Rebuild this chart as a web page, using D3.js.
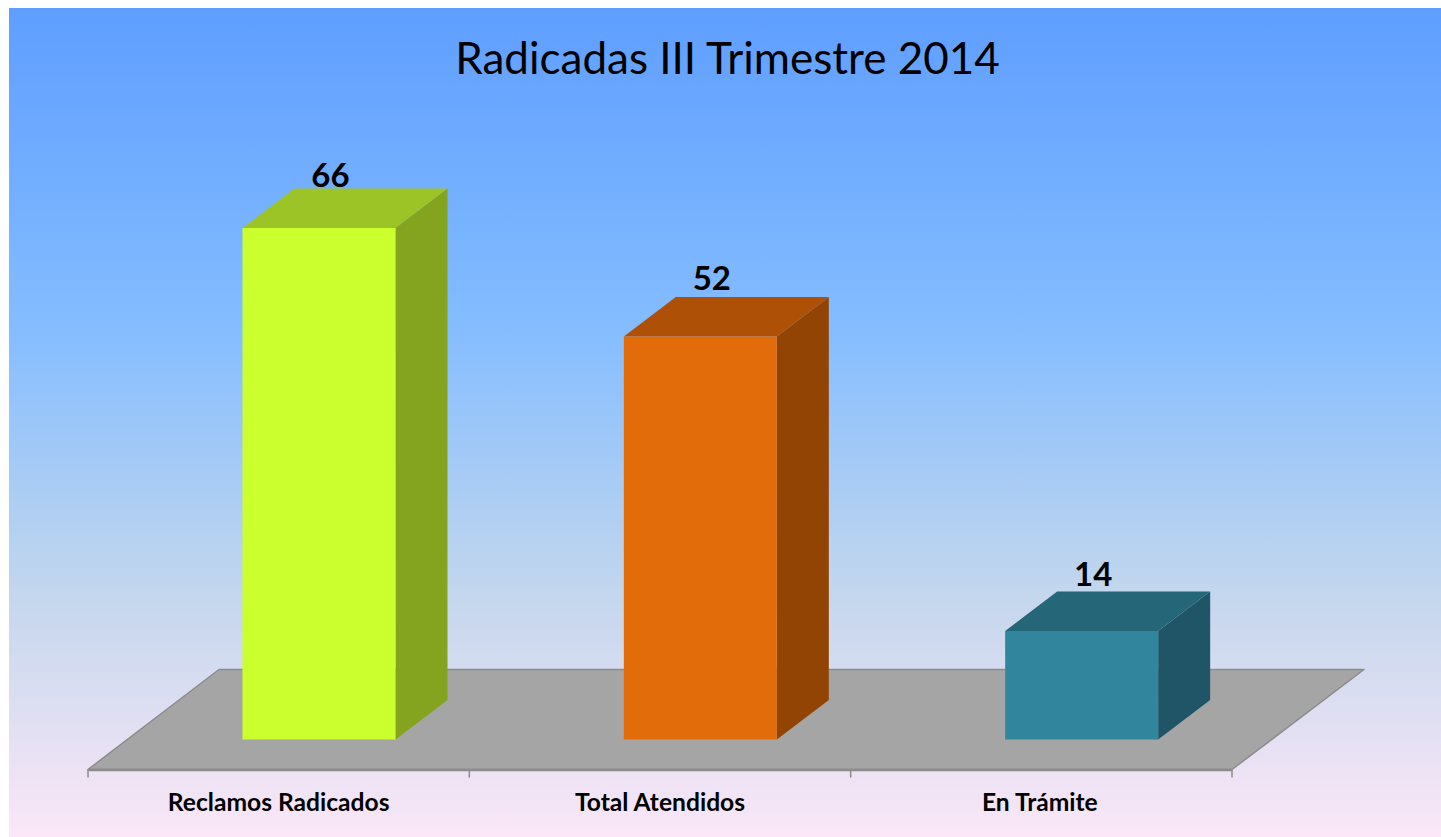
<!DOCTYPE html>
<html><head><meta charset="utf-8">
<style>html,body{margin:0;padding:0;background:#fff;overflow:hidden}svg{display:block}text{font-family:Lato,"Open Sans",sans-serif;fill:#000}</style>
<script src="https://cdn.jsdelivr.net/npm/d3@7/dist/d3.min.js"></script>
</head><body><svg id="c" width="1441" height="837"></svg>
<script>
const titleText = "Radicadas III Trimestre 2014";
const categories = ["Reclamos Radicados","Total Atendidos","En Trámite"];
const values = [66,52,14];
const frontColors = ["#ccff2e","#e36c0a","#31859c"];
const topColors = ["#9dc427","#ae5107","#256678"];
const sideColors = ["#84a31f","#924405","#1f5566"];
const labelLift = [41,47,45];

const svg = d3.select("#c");
const defs = svg.append("defs");
const grad = defs.append("linearGradient").attr("id","bg").attr("x1",0).attr("x2",0).attr("y1",0).attr("y2",1);
[[0,"#5e9eff"],[0.39,"#85bdff"],[0.7,"#c2d6ed"],[1,"#fbe7f7"]].forEach(s=>grad.append("stop").attr("offset",s[0]).attr("stop-color",s[1]));
svg.append("rect").attr("x",9).attr("y",8).attr("width",1432).attr("height",829).attr("fill","url(#bg)");

const x = d3.scaleBand().domain(categories).range([88,1232]);
const y = d3.scaleLinear().domain([0,66]).range([739.5,228]);
const depth = {dx:52,dy:-39.5};
const floorDepth = {dx:131,dy:-100};
const floorY = 769.5;
const barW = 153, barInset = 154.5;

svg.append("path")
  .attr("d",d3.line()([[88,floorY],[1232,floorY],[1232+floorDepth.dx+1,floorY+floorDepth.dy],[88+floorDepth.dx,floorY+floorDepth.dy]])+"Z")
  .attr("fill","#a5a5a5").attr("stroke","#8c8c8c").attr("stroke-width",1.5).attr("stroke-linejoin","round");

const axis = d3.axisBottom(x).tickSize(0).tickPadding(0);
const ag = svg.append("g").attr("transform",`translate(0,${floorY})`).call(axis);
ag.select(".domain").attr("stroke","#8c8c8c").attr("stroke-width",2.5);
ag.selectAll(".tick text").attr("y",41.5).attr("dy",0).style("font-size","24.6px").style("font-weight",700).style("font-family","Lato").attr("fill","#000")
  .attr("dx",(d,i)=>[0,0,-1.5][i]);
const tickXs = categories.map(c=>x(c)).concat([x.range()[1]]);
svg.append("g").selectAll("line").data(tickXs).join("line")
  .attr("x1",d=>d).attr("x2",d=>d).attr("y1",floorY).attr("y2",floorY+8)
  .attr("stroke","#8c8c8c").attr("stroke-width",1.5);

const bars = svg.append("g").selectAll("g").data(values).join("g");
bars.each(function(v,i){
  const g = d3.select(this);
  const x0 = x(categories[i])+barInset, x1 = x0+barW, yb = y(0), yt = y(v);
  const l = d3.line();
  g.append("path").attr("d",l([[x1,yb],[x1+depth.dx,yb+depth.dy],[x1+depth.dx,yt+depth.dy],[x1,yt]])+"Z").attr("fill",sideColors[i]);
  g.append("path").attr("d",l([[x0,yt],[x1,yt],[x1+depth.dx,yt+depth.dy],[x0+depth.dx,yt+depth.dy]])+"Z").attr("fill",topColors[i]);
  g.append("rect").attr("x",x0).attr("y",yt).attr("width",barW).attr("height",yb-yt).attr("fill",frontColors[i]);
  g.append("text").attr("x",x0+88).attr("y",yt-labelLift[i]).attr("text-anchor","middle").style("font-size","33px").style("font-weight",700).text(v);
});

svg.append("text").attr("x",727.5).attr("y",74).attr("text-anchor","middle").style("font-size","44px").text(titleText);
</script></body></html>
